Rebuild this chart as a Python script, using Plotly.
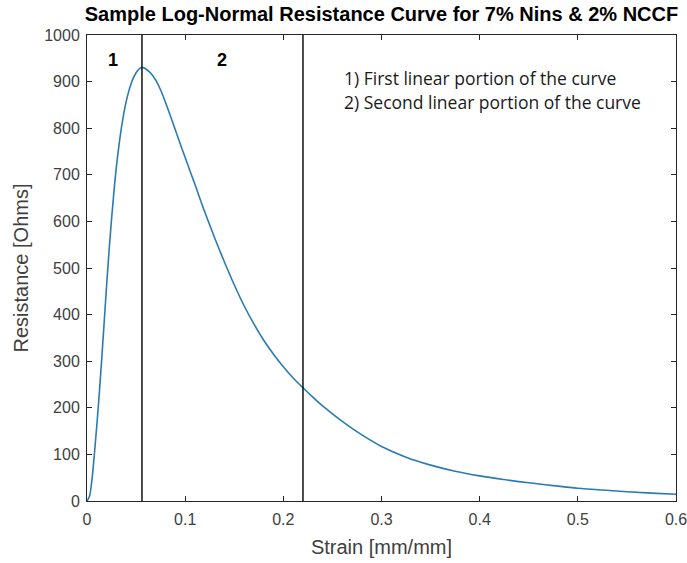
import plotly.graph_objects as go

# Strain [mm/mm] vs. resistance [Ohms] along the log-normal response curve
strain = [0.0, 0.0025, 0.005, 0.0075, 0.01, 0.0125, 0.015, 0.0175, 0.02,
          0.0225, 0.025, 0.0275, 0.03, 0.0325, 0.035, 0.0375, 0.04, 0.0425,
          0.045, 0.0475, 0.05, 0.0525, 0.055, 0.0575, 0.06, 0.065, 0.07,
          0.075, 0.08, 0.085, 0.09, 0.095, 0.10, 0.11, 0.12, 0.13, 0.14,
          0.15, 0.16, 0.17, 0.18, 0.19, 0.20, 0.21, 0.22, 0.23, 0.24, 0.25,
          0.26, 0.27, 0.28, 0.29, 0.30, 0.325, 0.35, 0.375, 0.40, 0.425,
          0.45, 0.475, 0.50, 0.525, 0.55, 0.575, 0.60]
resistance = [0, 10, 45, 100, 162, 230, 305, 384, 463,
              538, 605, 665, 718, 762, 800, 832, 858, 879,
              896, 909, 919, 926, 929.5, 930, 927, 918, 903,
              882, 855, 826, 796, 766, 737, 679, 620, 565, 513,
              464, 419, 380, 345, 315, 288, 264, 243, 223, 204, 187,
              171, 156, 142, 129, 117, 94, 77, 64, 54, 46,
              39, 33, 27.5, 23.5, 20, 17, 14.5]

# Strain values splitting the curve into its two linear portions
boundaries = [0.056, 0.22]
region_labels = ["1", "2"]
region_label_x = [0.026, 0.138]
legend_lines = ["1) First linear portion of the curve",
                "2) Second linear portion of the curve"]

x_ticks = [0, 0.1, 0.2, 0.3, 0.4, 0.5, 0.6]
x_tick_text = ["0", "0.1", "0.2", "0.3", "0.4", "0.5", "0.6"]
y_ticks = list(range(0, 1001, 100))

AX = "#262626"
TICK = "#404040"
FONT = "Liberation Sans, Arial"

fig = go.Figure()

fig.add_trace(go.Scatter(
    x=strain, y=resistance, mode="lines",
    line=dict(color="#2B7BB2", width=1.6, shape="spline", smoothing=1.0),
    hoverinfo="x+y", showlegend=False,
))

for b in boundaries:
    fig.add_trace(go.Scatter(
        x=[b, b], y=[0, 1000], mode="lines",
        line=dict(color="black", width=1.4),
        hoverinfo="skip", showlegend=False,
    ))

for lab, lx in zip(region_labels, region_label_x):
    fig.add_annotation(x=lx, y=947, xref="x", yref="y", text=f"<b>{lab}</b>",
                       showarrow=False,
                       font=dict(family=FONT, size=18, color="black"))

for i, txt in enumerate(legend_lines):
    fig.add_annotation(x=0.2595, y=908 - i * 52, xref="x", yref="y", text=txt,
                       showarrow=False, xanchor="left",
                       font=dict(family="Open Sans", size=17.5, color="#1a1a1a"))

axis_common = dict(
    showline=True, linecolor=AX, linewidth=1, mirror="ticks",
    ticks="inside", ticklen=5, tickcolor=AX, tickwidth=1,
    showgrid=False, zeroline=False, automargin=False,
    ticklabeloverflow="allow",
    tickfont=dict(family=FONT, size=16, color=TICK),
)

fig.update_xaxes(range=[0, 0.6], tickmode="array", tickvals=x_ticks,
                 ticktext=x_tick_text, ticklabelstandoff=4,
                 title=dict(text="Strain [mm/mm]", standoff=12,
                            font=dict(family=FONT, size=20, color=TICK)),
                 **axis_common)
fig.update_yaxes(range=[0, 1000], tickmode="array", tickvals=y_ticks,
                 ticklabelstandoff=3,
                 title=dict(text="Resistance [Ohms]", standoff=10,
                            font=dict(family=FONT, size=20, color=TICK)),
                 **axis_common)

fig.update_layout(
    width=687, height=563,
    margin=dict(l=87, r=11, t=35, b=62, autoexpand=False),
    paper_bgcolor="white", plot_bgcolor="white",
    title=dict(text="<b>Sample Log-Normal Resistance Curve for 7% Nins & 2% NCCF</b>",
               x=0.5, xref="paper", xanchor="center", y=1, yref="container",
               yanchor="top", pad=dict(t=7), automargin=False,
               font=dict(family=FONT, size=20, color="black")),
)

fig.write_html("out.html")
